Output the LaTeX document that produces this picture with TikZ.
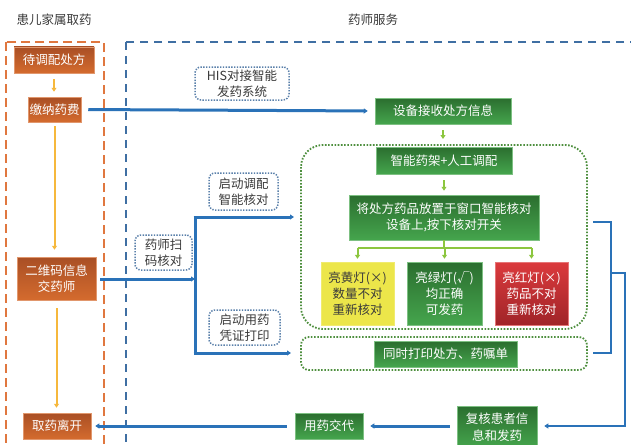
\documentclass[tikz,border=0pt]{standalone}
\usepackage{fontspec}
\setmainfont{Noto Sans CJK SC}
\usetikzlibrary{arrows.meta}
\definecolor{orangeT}{HTML}{A94F25}
\definecolor{orangeB}{HTML}{D46B2E}
\definecolor{greenT}{HTML}{2B6E2F}
\definecolor{greenB}{HTML}{45A54D}
\definecolor{yellowbox}{HTML}{ECE64A}
\definecolor{redT}{HTML}{DB3A3D}
\definecolor{redB}{HTML}{A02428}
\definecolor{blueline}{HTML}{2A72B8}
\definecolor{goldarrow}{HTML}{F6B83C}
\definecolor{lgreen}{HTML}{8CC63F}
\definecolor{dotblue}{HTML}{5A80AA}
\definecolor{dotgreen}{HTML}{4E8F3E}
\definecolor{dashorange}{HTML}{E0773F}
\definecolor{dashblue}{HTML}{3F6FA3}
\definecolor{txt}{HTML}{3A3A3A}
\tikzset{
  every node/.style={font=\fontsize{12.5}{16}\selectfont, inner sep=0pt, align=center},
  obox/.style={rectangle, top color=orangeT, bottom color=orangeB, draw=orangeB!70!white, line width=0.5pt, text=white},
  gbox/.style={rectangle, top color=greenT, bottom color=greenB, draw=greenB!70!white, line width=0.5pt, text=white},
  ybox/.style={rectangle, fill=yellowbox, draw=yellowbox!80!white, text=txt},
  rbox/.style={rectangle, top color=redT, bottom color=redB, draw=redT!70!white, line width=0.5pt, text=white},
  lbl/.style={rectangle, rounded corners=6pt, draw=dotblue, line width=1.5pt, dash pattern=on 1.4pt off 1.4pt, fill=white, text=txt},
  title/.style={text=txt, font=\fontsize{12.5}{15}\selectfont},
  garrow/.style={draw=goldarrow, line width=2pt, -{Triangle[length=4pt,width=5pt]}},
  larrow/.style={draw=lgreen, line width=2pt, -{Triangle[length=4pt,width=5pt]}},
  barrow/.style={draw=blueline, line width=3pt, -{Triangle[length=4pt,width=5pt]}},
  bline/.style={draw=blueline, line width=3pt},
  gdot/.style={draw=dotgreen, line width=1.8pt, dash pattern=on 1.6pt off 1.6pt},
}
\begin{document}
\begin{tikzpicture}[x=1pt,y=-1pt]
\useasboundingbox (0,0) rectangle (631,444);
\fill[white] (0,0) rectangle (631,444);
% titles
\node[title] (h1) at (54,20) {患儿家属取药};
\node[title] (h2) at (373,20) {药师服务};
% dashed areas
\draw[dashorange, line width=2pt, dash pattern=on 9pt off 5pt] (6,42) rectangle (104,460);
\draw[dashblue, line width=2pt, dash pattern=on 8pt off 6pt] (126,42) rectangle (650,460);
% green dotted groups
\draw[gdot, rounded corners=22pt] (301,145) rectangle (587,329);
\draw[gdot, rounded corners=8pt] (301,337) rectangle (587,370);
% left column
\node[obox, minimum width=80pt, minimum height=26pt] (t1) at (54,60) {待调配处方};
\node[obox, minimum width=53pt, minimum height=25pt] (t2) at (54.5,109.5) {缴纳药费};
\node[obox, minimum width=79pt, minimum height=43pt] (t3) at (56.5,278.5) {二维码信息\\交药师};
\node[obox, minimum width=68pt, minimum height=26pt] (t4) at (57,426) {取药离开};
% green column
\node[gbox, minimum width=136pt, minimum height=26pt] (s1) at (443,111) {设备接收处方信息};
\node[gbox, minimum width=136pt, minimum height=27pt] (s2) at (444,160.5) {智能药架+人工调配};
\node[gbox, minimum width=190pt, minimum height=45pt] (s3) at (444,217.5) {将处方药品放置于窗口智能核对\\设备上,按下核对开关};
\node[ybox, minimum width=73pt, minimum height=63pt] (y1) at (357.5,293.5) {亮黄灯(×)\\数量不对\\重新核对};
\node[gbox, minimum width=75pt, minimum height=63pt] (g1) at (444.5,293.5) {亮绿灯(√)\\均正确\\可发药};
\node[rbox, minimum width=73pt, minimum height=63pt] (r1) at (531.5,293.5) {亮红灯(×)\\药品不对\\重新核对};
\node[gbox, minimum width=143pt, minimum height=26pt] (s4) at (445.5,354) {同时打印处方、药嘱单};
\node[gbox, minimum width=80pt, minimum height=42pt, font=\fontsize{12.5}{17}\selectfont] (s5) at (497,427) {复核患者信\\息和发药};
\node[gbox, minimum width=68pt, minimum height=26pt] (s6) at (329,426) {用药交代};
% labels
\node[lbl, minimum width=94pt, minimum height=33pt] (his) at (242,83.5) {HIS对接智能\\发药系统};
\node[lbl, minimum width=57pt, minimum height=35pt] (scan) at (163.5,252.5) {药师扫\\码核对};
\node[lbl, minimum width=69pt, minimum height=37pt] (qd1) at (243.5,191.5) {启动调配\\智能核对};
\node[lbl, minimum width=71pt, minimum height=35pt] (qd2) at (244.5,327.5) {启动用药\\凭证打印};
% orange arrows
\draw[garrow, shorten <=6pt, shorten >=5pt] (t1.south) -- (t1.south |- t2.north);
\draw[garrow, shorten <=4pt, shorten >=7pt] (t2.south) -- (t2.south |- t3.north);
\draw[garrow, shorten <=8pt, shorten >=5pt] (t3.south) -- (t3.south |- t4.north);
% blue top arrow
\draw[barrow, shorten <=7pt, shorten >=7pt] (t2.east) -- (s1.west);
% green arrows
\draw[larrow, shorten <=6pt, shorten >=6pt] (s1.south) -- (s1.south |- 0,145);
\draw[larrow, shorten <=6pt, shorten >=4pt] (s2.south) -- (s2.south |- s3.north);
\coordinate (bk) at (444,248);
\draw[lgreen, line width=2pt] (s3.south) -- (bk);
\draw[lgreen, line width=2pt] (y1.north |- bk) -- (r1.north |- bk);
\draw[larrow, shorten >=3pt] (y1.north |- bk) -- (y1.north);
\draw[larrow, shorten >=3pt] (g1.north |- bk) -- (g1.north);
\draw[larrow, shorten >=3pt] (r1.north |- bk) -- (r1.north);
% scan branch
\coordinate (v1) at (195,217);
\coordinate (v2) at (195,353);
\coordinate (vm) at (195,279);
\coordinate (e1) at (294,217);
\coordinate (e2) at (291,353);
\draw[barrow, shorten <=4pt] (t3.east |- vm) -- (vm);
\draw[bline] (v1) -- (v2);
\draw[barrow] ([xshift=-1.5pt]v1) -- (e1);
\draw[barrow] ([xshift=-1.5pt]v2) -- (e2);
% right bracket
\coordinate (b1) at (593,222);
\coordinate (b2) at (611,222);
\coordinate (b3) at (611,353);
\coordinate (b4) at (593,353);
\coordinate (b5) at (611,273);
\coordinate (b6) at (625,273);
\coordinate (b7) at (625,426);
\draw[bline, line width=2.5pt] (b1) -- (b2) -- (b3) -- (b4);
\draw[blueline, line width=2.5pt, -{Triangle[length=4pt,width=5pt]}, shorten >=7pt] (b5) -- (b6) -- (b7) -- (b7 -| s5.east);
% bottom arrows
\draw[barrow, shorten <=7pt, shorten >=7pt] (s5.west |- s6.east) -- (s6.east);
\draw[barrow, shorten <=8pt, shorten >=4pt] (s6.west) -- (t4.east);
\end{tikzpicture}
\end{document}
